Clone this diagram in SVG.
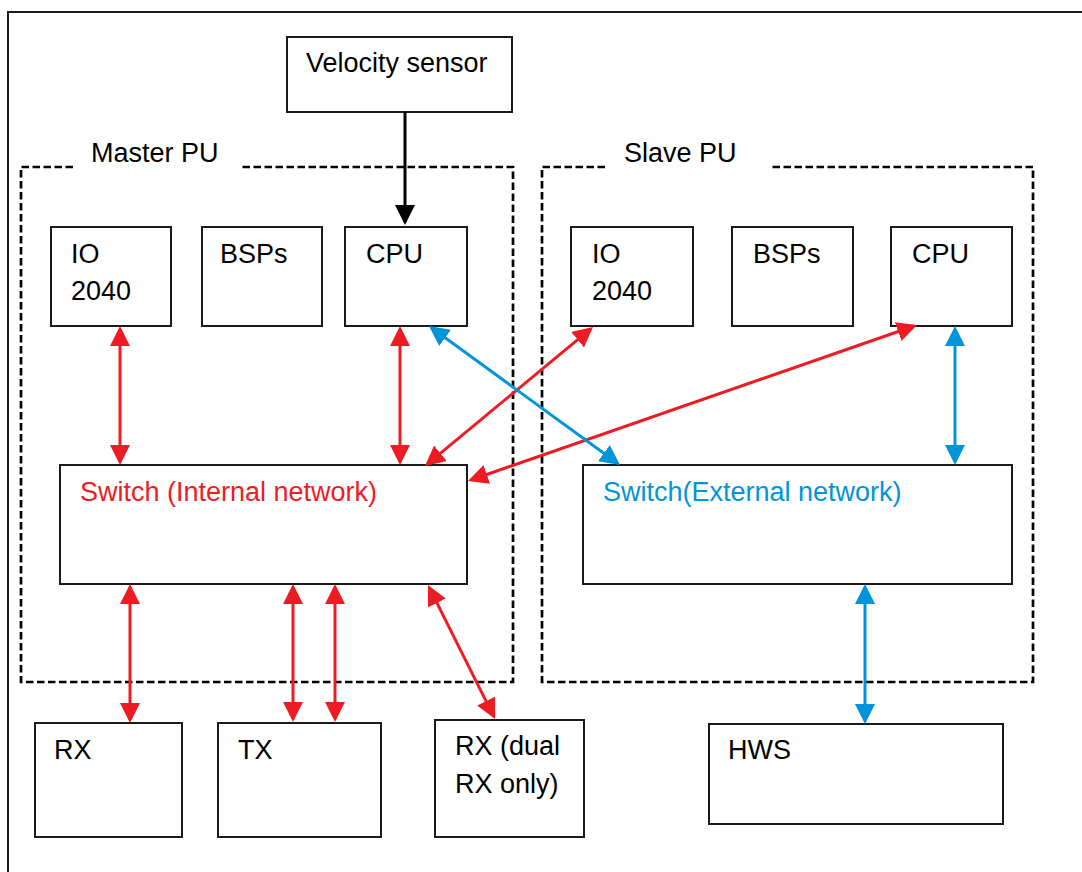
<svg xmlns="http://www.w3.org/2000/svg" width="1082" height="872" viewBox="0 0 1082 872">
<style>
.box{fill:#fff;stroke:#1a1a1a;stroke-width:2}
.grp{fill:none;stroke:#000;stroke-width:2.7;stroke-dasharray:7.5 3.5}
.t{font-family:"Liberation Sans",Arial,sans-serif;font-size:27px;fill:#000}
.tr{fill:#ED1C24}
.tb{fill:#0095DA}
.cr{stroke:#ED1C24;stroke-width:3;fill:none;marker-start:url(#ar);marker-end:url(#ar)}
.cb{stroke:#0095DA;stroke-width:3;fill:none;marker-start:url(#ab);marker-end:url(#ab)}
.ck{stroke:#000;stroke-width:3;fill:none;marker-end:url(#ak)}
</style>
<defs>
<marker id="ar" markerUnits="userSpaceOnUse" markerWidth="20" markerHeight="20" viewBox="0 0 20 20" refX="17" refY="10" orient="auto-start-reverse"><path d="M0,0 L20,10 L0,20 z" fill="#ED1C24"/></marker>
<marker id="ab" markerUnits="userSpaceOnUse" markerWidth="20" markerHeight="20" viewBox="0 0 20 20" refX="17" refY="10" orient="auto-start-reverse"><path d="M0,0 L20,10 L0,20 z" fill="#0095DA"/></marker>
<marker id="ak" markerUnits="userSpaceOnUse" markerWidth="20" markerHeight="20" viewBox="0 0 20 20" refX="17" refY="10" orient="auto-start-reverse"><path d="M0,0 L20,10 L0,20 z" fill="#000"/></marker>
</defs>
<rect x="0" y="0" width="1082" height="872" fill="#fff"/>
<rect id="frame" x="8" y="12" width="1100" height="900" fill="none" stroke="#1a1a1a" stroke-width="2"/>

<g id="master-pu">
<path class="grp" d="M73,167 L21,167 L21,682 L513,682 L513,167 L240,167"/>
<text class="t" x="91" y="162">Master PU</text>
</g>
<g id="slave-pu">
<path class="grp" d="M605,167 L542,167 L542,682 L1033,682 L1033,167 L772,167"/>
<text class="t" x="624" y="162">Slave PU</text>
</g>

<g id="velocity-sensor">
<rect class="box" x="287" y="37" width="225" height="75"/>
<text class="t" x="306" y="72">Velocity sensor</text>
</g>

<g id="m-io">
<rect class="box" x="51" y="227" width="120" height="99"/>
<text class="t" x="71" y="263">IO</text>
<text class="t" x="71" y="300">2040</text>
</g>
<g id="m-bsps">
<rect class="box" x="202" y="227" width="120" height="99"/>
<text class="t" x="220" y="263">BSPs</text>
</g>
<g id="m-cpu">
<rect class="box" x="345" y="227" width="122" height="99"/>
<text class="t" x="366" y="263">CPU</text>
</g>

<g id="s-io">
<rect class="box" x="571" y="227" width="122" height="99"/>
<text class="t" x="592" y="263">IO</text>
<text class="t" x="592" y="300">2040</text>
</g>
<g id="s-bsps">
<rect class="box" x="732" y="227" width="121" height="99"/>
<text class="t" x="753" y="263">BSPs</text>
</g>
<g id="s-cpu">
<rect class="box" x="891" y="227" width="121" height="99"/>
<text class="t" x="912" y="263">CPU</text>
</g>

<g id="switch-internal">
<rect class="box" x="60" y="465" width="407" height="119"/>
<text class="t tr" x="80" y="501">Switch (Internal network)</text>
</g>
<g id="switch-external">
<rect class="box" x="583" y="465" width="429" height="119"/>
<text class="t tb" x="603" y="501">Switch(External network)</text>
</g>

<g id="rx">
<rect class="box" x="35" y="723" width="147" height="114"/>
<text class="t" x="54" y="759">RX</text>
</g>
<g id="tx">
<rect class="box" x="218" y="723" width="163" height="114"/>
<text class="t" x="238" y="759">TX</text>
</g>
<g id="rx-dual">
<rect class="box" x="435" y="720" width="149" height="117"/>
<text class="t" x="455" y="755">RX (dual</text>
<text class="t" x="455" y="793">RX only)</text>
</g>
<g id="hws">
<rect class="box" x="709" y="724" width="294" height="100"/>
<text class="t" x="728" y="759">HWS</text>
</g>

<g id="connectors">
<line class="ck" x1="405" y1="112" x2="405" y2="222"/>
<line class="cr" x1="120" y1="329" x2="120" y2="462"/>
<line class="cr" x1="400" y1="329" x2="400" y2="462"/>
<line class="cr" x1="427.3" y1="464.1" x2="590.7" y2="328.9"/>
<line class="cr" x1="470.8" y1="480" x2="914.2" y2="326"/>
<line class="cb" x1="431.4" y1="327.8" x2="617.6" y2="463.2"/>
<line class="cb" x1="955" y1="329" x2="955" y2="462"/>
<line class="cb" x1="865" y1="587" x2="865" y2="721"/>
<line class="cr" x1="130" y1="587" x2="130" y2="720"/>
<line class="cr" x1="293" y1="587" x2="293" y2="719"/>
<line class="cr" x1="335" y1="587" x2="335" y2="719"/>
<line class="cr" x1="429.3" y1="587.7" x2="493.7" y2="716.3"/>
</g>
</svg>
